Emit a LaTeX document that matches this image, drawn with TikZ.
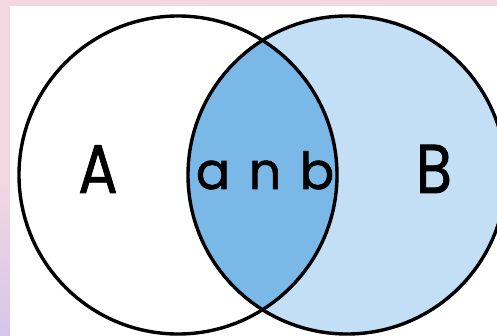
\documentclass[tikz,border=0pt]{standalone}
\usepackage{fontspec}
\newfontfamily\vennfont[FakeBold=1.2]{Poppins}
\definecolor{slidepink}{HTML}{F3D7E1}
\definecolor{slidelilac}{HTML}{D5C6EA}
\definecolor{setBblue}{HTML}{C2DFF5}
\definecolor{lensblue}{HTML}{7AB8E8}
\tikzset{
  set circle/.style={circle,draw=black,line width=3.4pt,minimum size=318pt,inner sep=0pt},
  big label/.style={font=\vennfont\fontsize{69}{69}\selectfont,inner sep=0pt,anchor=base,xscale=0.85},
  lens label/.style={font=\vennfont\fontsize{51}{51}\selectfont,inner sep=0pt,anchor=base}
}

\begin{document}
\begin{tikzpicture}[x=1pt,y=-1pt]
\useasboundingbox (0,0) rectangle (497,336);

%Background: slide border and white panel
\fill[slidepink] (0,0) rectangle (497,336);
\shade[top color=slidepink,bottom color=slidelilac] (0,180) rectangle (10,336);
\fill[white] (10,6) rectangle (497,336);

\coordinate (cA) at (178,175);
\coordinate (cB) at (347,175);

\begin{scope}
\clip (10,6) rectangle (497,336);
%Set B fill and the lens A n B
\fill[setBblue] (cB) circle (159);
\begin{scope}
\clip (cA) circle (159);
\fill[lensblue] (cB) circle (159);
\end{scope}
%Shape: Circles
\node[set circle] (setA) at (cA) {};
\node[set circle] (setB) at (cB) {};
\end{scope}

% Text Node
\node[big label] (labA) at (98,193) {A};
% Text Node
\node[big label] (labB) at (434,193) {B};
% Text Node
\node[lens label] (labAB) at (265,189) {a\hspace{0.36em}n\hspace{0.36em}b};

\end{tikzpicture}
\end{document}
